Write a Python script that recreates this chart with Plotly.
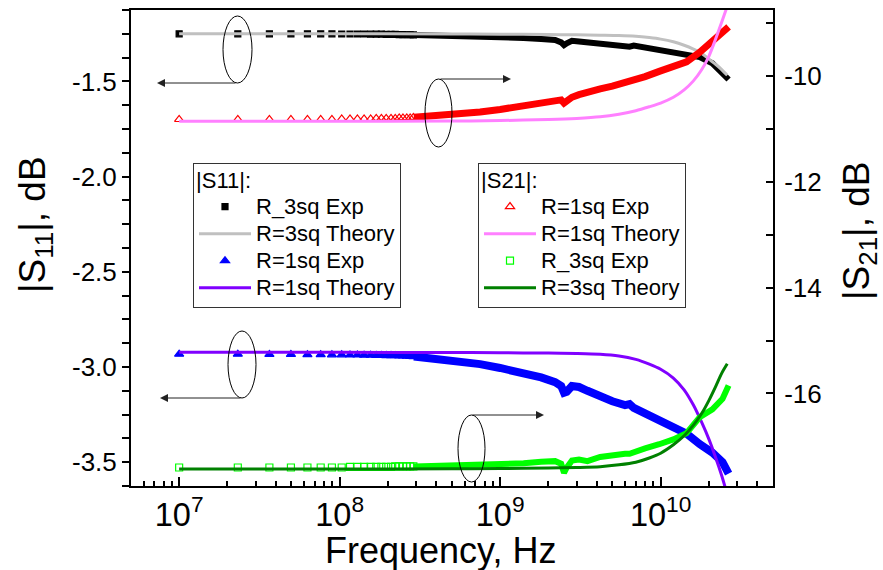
import plotly.graph_objects as go

# ---------------- data ----------------
# sweep frequencies where individual markers are still distinguishable (Hz)
f_low = [1.00e7, 2.32e7, 3.65e7, 4.97e7, 6.30e7, 7.62e7, 8.95e7, 1.03e8, 1.16e8,
         1.29e8, 1.42e8, 1.56e8, 1.69e8, 1.82e8, 1.95e8, 2.09e8, 2.22e8, 2.35e8,
         2.48e8, 2.62e8, 2.75e8, 2.88e8]
# frequencies where the dense measurement markers merge into a band (Hz)
f_band = [2.9e8, 4e8, 5.5e8, 7.5e8, 1e9, 1.4e9, 1.8e9, 2.2e9, 2.4e9, 2.5e9, 2.6e9,
          2.8e9, 3.1e9, 3.5e9, 4.2e9, 5e9, 6e9, 6.4e9, 6.8e9, 8e9, 9.8e9, 1.2e10,
          1.45e10, 1.75e10, 2.1e10, 2.43e10, 2.65e10]
# theory curve frequencies (Hz)
f_th = [1e7, 1e8, 5e8, 1e9, 2e9, 3e9, 4.2e9, 5.5e9, 7e9, 8.5e9, 1e10, 1.2e10,
        1.4e10, 1.6e10, 1.8e10, 2e10, 2.2e10, 2.4e10, 2.6e10]

# |S11| R_3sq experiment (dB, left axis)
s11_3sq_exp_low = [-1.250, -1.250, -1.250, -1.250, -1.250, -1.250, -1.250, -1.251,
                   -1.251, -1.251, -1.251, -1.252, -1.252, -1.252, -1.253, -1.253,
                   -1.253, -1.254, -1.254, -1.255, -1.255, -1.256]
s11_3sq_exp_band = [-1.256, -1.258, -1.261, -1.264, -1.267, -1.272, -1.277, -1.282,
                    -1.295, -1.310, -1.300, -1.287, -1.290, -1.295, -1.300, -1.305,
                    -1.310, -1.318, -1.312, -1.322, -1.333, -1.345, -1.357, -1.372,
                    -1.405, -1.455, -1.490]
# |S11| R=3sq theory
s11_3sq_th = [-1.250, -1.250, -1.251, -1.252, -1.254, -1.255, -1.257, -1.259, -1.263,
              -1.270, -1.278, -1.292, -1.310, -1.330, -1.352, -1.383, -1.410, -1.438,
              -1.468]
# |S11| R=1sq experiment
s11_1sq_exp_low = [-2.933, -2.933, -2.934, -2.934, -2.935, -2.935, -2.936, -2.936,
                   -2.937, -2.937, -2.938, -2.938, -2.939, -2.939, -2.940, -2.940,
                   -2.941, -2.942, -2.942, -2.943, -2.944, -2.945]
s11_1sq_exp_band = [-2.945, -2.955, -2.968, -2.985, -3.005, -3.030, -3.055, -3.080,
                    -3.100, -3.135, -3.130, -3.100, -3.105, -3.125, -3.155, -3.180,
                    -3.200, -3.195, -3.215, -3.245, -3.280, -3.320, -3.350, -3.405,
                    -3.450, -3.500, -3.560]
# |S11| R=1sq theory
s11_1sq_th = [-2.923, -2.923, -2.924, -2.925, -2.927, -2.929, -2.933, -2.942, -2.960,
              -2.985, -3.012, -3.058, -3.120, -3.200, -3.290, -3.380, -3.475, -3.570,
              -3.670]

# |S21| R=1sq experiment (dB, right axis)
s21_1sq_exp_low = [-10.82, -10.82, -10.82, -10.82, -10.82, -10.82, -10.82, -10.81,
                   -10.81, -10.81, -10.81, -10.81, -10.80, -10.80, -10.80, -10.80,
                   -10.80, -10.79, -10.79, -10.79, -10.79, -10.78]
s21_1sq_exp_band = [-10.78, -10.75, -10.72, -10.68, -10.63, -10.57, -10.51, -10.46,
                    -10.45, -10.51, -10.47, -10.40, -10.35, -10.30, -10.24, -10.19,
                    -10.13, -10.10, -10.07, -10.01, -9.91, -9.82, -9.73, -9.55,
                    -9.35, -9.18, -9.07]
# |S21| R=1sq theory
s21_1sq_th = [-10.855, -10.855, -10.85, -10.84, -10.82, -10.80, -10.77, -10.72,
              -10.655, -10.58, -10.51, -10.40, -10.26, -10.09, -9.88, -9.62, -9.30,
              -8.98, -8.68]
# |S21| R_3sq experiment
s21_3sq_exp_low = [-17.40, -17.40, -17.40, -17.40, -17.40, -17.40, -17.40, -17.40,
                   -17.39, -17.39, -17.39, -17.39, -17.39, -17.39, -17.39, -17.39,
                   -17.38, -17.38, -17.38, -17.38, -17.38, -17.38]
s21_3sq_exp_band = [-17.38, -17.37, -17.36, -17.35, -17.35, -17.32, -17.29, -17.28,
                    -17.33, -17.50, -17.40, -17.27, -17.25, -17.28, -17.20, -17.16,
                    -17.14, -17.14, -17.11, -17.04, -16.96, -16.87, -16.75, -16.45,
                    -16.30, -16.10, -15.85]
# |S21| R=3sq theory
s21_3sq_th = [-17.43, -17.43, -17.425, -17.42, -17.41, -17.40, -17.385, -17.35, -17.30,
              -17.22, -17.13, -16.97, -16.80, -16.60, -16.38, -16.13, -15.87, -15.62,
              -15.44]

y1_ticks = [-3.5, -3.0, -2.5, -2.0, -1.5]
y1_labels = ["-3.5", "-3.0", "-2.5", "-2.0", "-1.5"]
y2_ticks = [-16, -14, -12, -10]
y2_labels = ["-16", "-14", "-12", "-10"]

# ---------------- colours ----------------
C_BLACK = "#000000"
C_GRAY = "#C0C0C0"
C_BLUE = "#0000FF"
C_PURPLE = "#8000FF"
C_RED = "#FF0000"
C_PINK = "#FF80FF"
C_LGREEN = "#00FF00"
C_DGREEN = "#008000"

FONT = "Liberation Sans, Arial, sans-serif"
LEG_TXT = "<span style='font-size:22px'>{}</span>"

fig = go.Figure()

def exp_traces(vals_low, vals_band, color, symbol, name, yaxis, legend, rank, msize, bw):
    fig.add_trace(go.Scatter(
        x=f_band, y=vals_band, mode="lines", yaxis=yaxis, showlegend=False,
        line=dict(color=color, width=bw), hoverinfo="skip"))
    fig.add_trace(go.Scatter(
        x=f_low, y=vals_low, mode="markers", yaxis=yaxis, name=LEG_TXT.format(name),
        legend=legend, legendrank=rank,
        marker=dict(color=color, symbol=symbol, size=msize,
                    line=dict(color=color, width=1.2))))

def th_trace(vals, color, name, yaxis, legend, rank):
    fig.add_trace(go.Scatter(
        x=f_th, y=vals, mode="lines", yaxis=yaxis, name=LEG_TXT.format(name),
        legend=legend, legendrank=rank,
        line=dict(color=color, width=3, shape="spline", smoothing=0.8)))

# |S11| (left axis)
exp_traces(s11_3sq_exp_low, s11_3sq_exp_band, C_BLACK, "square", "R_3sq Exp", "y", "legend", 1, 6, 6)
exp_traces(s11_1sq_exp_low, s11_1sq_exp_band, C_BLUE, "triangle-up", "R=1sq Exp", "y", "legend", 3, 8, 8)
th_trace(s11_3sq_th, C_GRAY, "R=3sq Theory", "y", "legend", 2)
th_trace(s11_1sq_th, C_PURPLE, "R=1sq Theory", "y", "legend", 4)
# |S21| (right axis)
exp_traces(s21_1sq_exp_low, s21_1sq_exp_band, C_RED, "triangle-up-open", "R=1sq Exp", "y2", "legend2", 1, 8, 7)
exp_traces(s21_3sq_exp_low, s21_3sq_exp_band, C_LGREEN, "square-open", "R_3sq Exp", "y2", "legend2", 3, 7, 6)
th_trace(s21_1sq_th, C_PINK, "R=1sq Theory", "y2", "legend2", 2)
th_trace(s21_3sq_th, C_DGREEN, "R=3sq Theory", "y2", "legend2", 4)

# ---------------- layout helpers (pixel -> paper) ----------------
W, H = 883, 570
L, R, T, B = 131, 110, 10, 84
PW, PH = W - L - R, H - T - B

def px(xp):
    return (xp - L) / PW

def py(yp):
    return (H - B - yp) / PH

legend_common = dict(
    bgcolor="rgba(255,255,255,0)", bordercolor="#333333", borderwidth=1,
    font=dict(family=FONT, size=18.5, color="black"),
    xanchor="left", yanchor="top", tracegroupgap=0, itemwidth=52,
)
fig.update_layout(
    width=W, height=H,
    margin=dict(l=L, r=R, t=T, b=B, autoexpand=False),
    paper_bgcolor="white", plot_bgcolor="white",
    font=dict(family=FONT, color="black"),
    legend=dict(x=px(193), y=py(163),
                title=dict(text=LEG_TXT.format("|S11|:"), font=dict(family=FONT, size=18.5)),
                **legend_common),
    legend2=dict(x=px(478), y=py(163),
                 title=dict(text=LEG_TXT.format("|S21|:"), font=dict(family=FONT, size=18.5)),
                 **legend_common),
    xaxis=dict(
        type="log", range=[6.7, 10.7], dtick=1, exponentformat="power", automargin=False,
        showline=True, linecolor="black", linewidth=2, mirror=True,
        ticks="inside", ticklen=9, tickwidth=1.5, tickcolor="black",
        tickfont=dict(family=FONT, size=26, color="black"),
        minor=dict(dtick="D1", ticks="inside", ticklen=5, tickwidth=1.5, tickcolor="black", showgrid=False),
        showgrid=False, zeroline=False,
    ),
    yaxis=dict(
        range=[-3.625, -1.125], tickvals=y1_ticks, ticktext=y1_labels, automargin=False,
        showline=True, linecolor="black", linewidth=2,
        ticks="outside", ticklen=7, tickwidth=1.5, tickcolor="black",
        tickfont=dict(family=FONT, size=26, color="black"),
        minor=dict(dtick=0.125, tick0=0, ticks="outside", ticklen=7, tickwidth=1.5, tickcolor="black", showgrid=False),
        showgrid=False, zeroline=False,
    ),
    yaxis2=dict(
        overlaying="y", side="right", range=[-17.75, -8.75], automargin=False,
        tickvals=y2_ticks, ticktext=y2_labels,
        showline=True, linecolor="black", linewidth=2,
        ticks="inside", ticklen=7, tickwidth=1.5, tickcolor="black",
        tickfont=dict(family=FONT, size=26, color="black"),
        minor=dict(dtick=1, tick0=0, ticks="inside", ticklen=7, tickwidth=1.5, tickcolor="black", showgrid=False),
        showgrid=False, zeroline=False, ticklabelstandoff=4,
    ),
)

# axis titles as annotations
fig.add_annotation(text="Frequency, Hz", x=px(440), y=py(550), xref="paper", yref="paper",
                   showarrow=False, xanchor="center", yanchor="middle",
                   font=dict(family=FONT, size=36, color="black"))
fig.add_annotation(text="|S<sub>11</sub>|, dB", x=px(35), y=py(225), xref="paper", yref="paper",
                   showarrow=False, textangle=-90, xanchor="center", yanchor="middle",
                   font=dict(family=FONT, size=37, color="black"))
fig.add_annotation(text="|S<sub>21</sub>|, dB", x=px(859), y=py(230), xref="paper", yref="paper",
                   showarrow=False, textangle=-90, xanchor="center", yanchor="middle",
                   font=dict(family=FONT, size=37, color="black"))

# ellipses with arrows pointing to the relevant axis
ellipses = [(223, 16, 252, 83), (425, 79, 452, 147), (228, 331, 256, 398), (458, 415, 485, 482)]
for x0, y0, x1, y1 in ellipses:
    fig.add_shape(type="circle", xref="paper", yref="paper",
                  x0=px(x0), x1=px(x1), y0=py(y1), y1=py(y0),
                  line=dict(color="black", width=1))
arrows = [((157, 83), (237, 83)), ((511, 79), (439, 79)),
          ((160, 398), (242, 398)), ((544, 415), (471, 415))]
for (hx, hy), (tx, ty) in arrows:
    fig.add_annotation(text="", x=px(hx), y=py(hy), xref="paper", yref="paper",
                       ax=tx - hx, ay=ty - hy, showarrow=True, arrowhead=2,
                       arrowsize=1.6, arrowwidth=1, arrowcolor="#222222", standoff=0)

fig.write_html("out.html", config={"displayModeBar": False},
               post_script="document.body.style.margin='0';document.body.style.padding='0';")
